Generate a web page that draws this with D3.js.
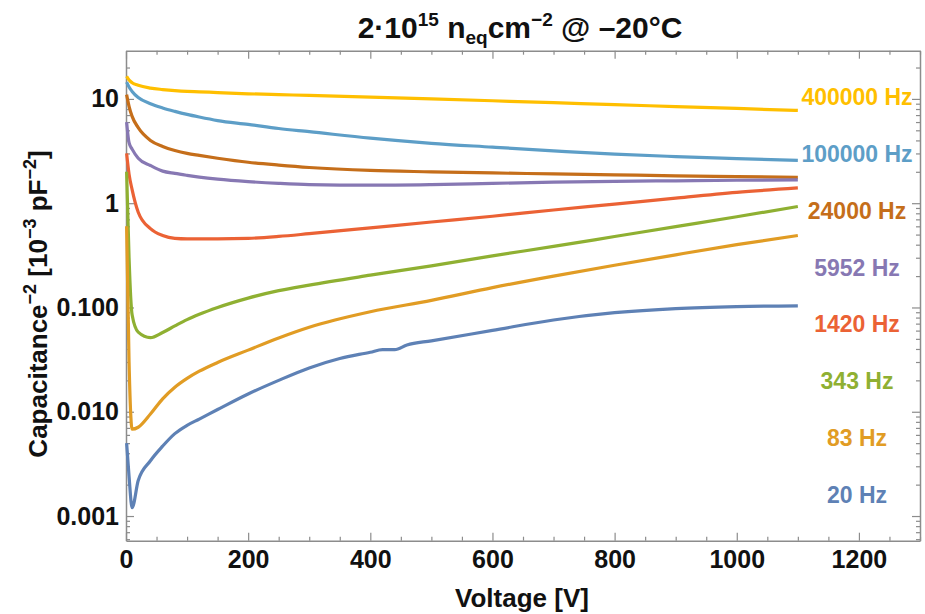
<!DOCTYPE html>
<meta charset="utf-8">
<style>
body {
  margin: 0;
  background: #fff;
  font-family: "Liberation Sans", Arial, sans-serif;
  font-weight: bold;
}
.frame .domain { stroke: #8c8c8c; stroke-width: 1.5; }
.frame .tick line { stroke: #8c8c8c; stroke-width: 1.2; }
.frame .tick text { fill: #111; font-size: 25px; font-weight: bold; }
.curve { fill: none; stroke-width: 3.2; stroke-linejoin: round; }
</style>
<body>
<script src="https://cdnjs.cloudflare.com/ajax/libs/d3/7.8.5/d3.min.js"></script>
<script>

var width = 925,
    height = 614;

// frequencies, top to bottom in the label column
var freqs = ["400000 Hz", "100000 Hz", "24000 Hz", "5952 Hz", "1420 Hz", "343 Hz", "83 Hz", "20 Hz"];
var colors = ["#ffbf00", "#5d9ec7", "#c56e1a", "#8778b3", "#eb6235", "#8fb032", "#e19c24", "#5e81b5"];

// bias voltage [V]
var voltage = [1, 5, 10, 20, 40, 60, 80, 100, 120, 150, 200, 250, 300, 400, 500, 600, 700, 800, 900, 1000, 1100];
// the 20 Hz curve was read on a slightly finer grid
var voltage20 = [1, 5, 10, 20, 40, 60, 80, 100, 120, 150, 200, 250, 300, 350, 400, 420, 440, 460, 500, 600, 700, 800, 900, 1000, 1100];

// 1/C^2 [1e-3 pF^-2]
var c400000 = [16.5, 15.2, 14.3, 13.5, 12.7, 12.3, 12.0, 11.8, 11.7, 11.5, 11.2, 11.0, 10.8, 10.4, 10.0, 9.6, 9.2, 8.8, 8.45, 8.1, 7.75];
var c100000 = [14.5, 13.0, 11.8, 10.3, 9.0, 8.2, 7.6, 7.1, 6.7, 6.2, 5.7, 5.2, 4.85, 4.2, 3.75, 3.45, 3.18, 2.95, 2.8, 2.68, 2.57];
var c24000 = [11.0, 8.5, 6.8, 5.3, 4.0, 3.5, 3.2, 3.0, 2.87, 2.7, 2.47, 2.32, 2.2, 2.06, 2.0, 1.95, 1.91, 1.87, 1.83, 1.8, 1.77];
var c5952 = [6.0, 3.8, 3.3, 2.7, 2.3, 2.03, 1.93, 1.85, 1.78, 1.7, 1.61, 1.55, 1.51, 1.49, 1.51, 1.55, 1.59, 1.62, 1.64, 1.66, 1.67];
var c1420 = [3.0, 1.9, 1.35, 0.82, 0.57, 0.49, 0.46, 0.455, 0.455, 0.455, 0.46, 0.48, 0.51, 0.58, 0.66, 0.75, 0.86, 0.98, 1.12, 1.27, 1.4];
var c343 = [2.0, 0.3, 0.085, 0.058, 0.0513, 0.0575, 0.0665, 0.0765, 0.086, 0.1, 0.123, 0.145, 0.164, 0.204, 0.251, 0.313, 0.385, 0.479, 0.596, 0.741, 0.93];
var c83 = [0.6, 0.03, 0.0068, 0.0071, 0.0095, 0.0133, 0.0172, 0.0209, 0.0245, 0.0297, 0.039, 0.051, 0.0646, 0.091, 0.117, 0.155, 0.2, 0.254, 0.32, 0.4, 0.49];
var c20 = [0.005, 0.0024, 0.0012, 0.00219, 0.00339, 0.00468, 0.00617, 0.00741, 0.00851, 0.0105, 0.0148, 0.02, 0.0263, 0.0324, 0.0372, 0.0394, 0.0394, 0.0437, 0.0479, 0.0603, 0.0759, 0.0891, 0.0977, 0.102, 0.1035];

var xTicks = [0, 200, 400, 600, 800, 1000, 1200];
var yTicks = [0.001, 0.01, 0.1, 1, 10];
var yTickLabels = ["0.001", "0.010", "0.100", "1", "10"];

var series = [
  { v: voltage, c: c400000 },
  { v: voltage, c: c100000 },
  { v: voltage, c: c24000 },
  { v: voltage, c: c5952 },
  { v: voltage, c: c1420 },
  { v: voltage, c: c343 },
  { v: voltage, c: c83 },
  { v: voltage20, c: c20 }
];

var x = d3.scaleLinear().domain([0, 1300]).range([126, 920]);
var y = d3.scaleLog().domain([0.00058, 29]).range([540.7, 50.7]);

var xMinor = d3.range(0, 1301, 50).filter(function(d) { return d % 200 !== 0; });
var yMinor = [];
[-4, -3, -2, -1, 0, 1].forEach(function(e) {
  for (var k = 2; k <= 9; k++) {
    var val = k * Math.pow(10, e);
    if (val >= 0.00058 && val <= 29) yMinor.push(val);
  }
});

var svg = d3.select("body").append("svg")
    .attr("width", width)
    .attr("height", height);

var frame = svg.append("g").attr("class", "frame");

// bottom / top
frame.append("g")
    .attr("transform", "translate(0," + y.range()[0] + ")")
    .call(d3.axisBottom(x).tickValues(xTicks).tickFormat(d3.format("d"))
      .tickSizeInner(-8).tickSizeOuter(0).tickPadding(10));
frame.append("g")
    .attr("transform", "translate(0," + y.range()[0] + ")")
    .call(d3.axisBottom(x).tickValues(xMinor).tickFormat("").tickSizeInner(-4).tickSizeOuter(0))
    .select(".domain").remove();
frame.append("g")
    .attr("transform", "translate(0," + y.range()[1] + ")")
    .call(d3.axisTop(x).tickValues(xTicks).tickFormat("").tickSizeInner(-8).tickSizeOuter(0));
frame.append("g")
    .attr("transform", "translate(0," + y.range()[1] + ")")
    .call(d3.axisTop(x).tickValues(xMinor).tickFormat("").tickSizeInner(-4).tickSizeOuter(0))
    .select(".domain").remove();

// left / right
frame.append("g")
    .attr("transform", "translate(" + x.range()[0] + ",0)")
    .call(d3.axisLeft(y).tickValues(yTicks)
      .tickFormat(function(d, i) { return yTickLabels[i]; })
      .tickSizeInner(-8).tickSizeOuter(0).tickPadding(7));
frame.append("g")
    .attr("transform", "translate(" + x.range()[0] + ",0)")
    .call(d3.axisLeft(y).tickValues(yMinor).tickFormat("").tickSizeInner(-4).tickSizeOuter(0))
    .select(".domain").remove();
frame.append("g")
    .attr("transform", "translate(" + x.range()[1] + ",0)")
    .call(d3.axisRight(y).tickValues(yTicks).tickFormat("").tickSizeInner(-8).tickSizeOuter(0));
frame.append("g")
    .attr("transform", "translate(" + x.range()[1] + ",0)")
    .call(d3.axisRight(y).tickValues(yMinor).tickFormat("").tickSizeInner(-4).tickSizeOuter(0))
    .select(".domain").remove();

frame.selectAll(".tick text").attr("font-family", null).attr("font-size", null);

// curves
var line = d3.line()
    .curve(d3.curveMonotoneX)
    .x(function(d) { return x(d[0]); })
    .y(function(d) { return y(d[1]); });

svg.append("g").selectAll(".curve")
    .data(series)
  .enter().append("path")
    .attr("class", "curve")
    .attr("stroke", function(d, i) { return colors[i]; })
    .attr("d", function(s) { return line(d3.zip(s.v, s.c)); });

// frequency labels on the right
var labelY = d3.scalePoint().domain(freqs).range([97, 495]);

svg.append("g").selectAll(".flabel")
    .data(freqs)
  .enter().append("text")
    .attr("class", "flabel")
    .attr("x", 857)
    .attr("y", function(d) { return labelY(d); })
    .attr("text-anchor", "middle")
    .attr("dominant-baseline", "central")
    .style("font-size", "23px")
    .style("fill", function(d, i) { return colors[i]; })
    .text(function(d) { return d; });

// title
var title = svg.append("text")
    .attr("x", 520)
    .attr("y", 38)
    .attr("text-anchor", "middle")
    .style("font-size", "30px")
    .style("fill", "#111");
title.append("tspan").text("2·10");
title.append("tspan").attr("dy", -12).style("font-size", "19px").text("15");
title.append("tspan").attr("dy", 12).text(" n");
title.append("tspan").attr("dy", 6).style("font-size", "19px").text("eq");
title.append("tspan").attr("dy", -6).text("cm");
title.append("tspan").attr("dy", -12).style("font-size", "19px").text("\u22122");
title.append("tspan").attr("dy", 12).text(" @ \u201320°C");

// axis titles
svg.append("text")
    .attr("x", 522)
    .attr("y", 607)
    .attr("text-anchor", "middle")
    .style("font-size", "26px")
    .style("fill", "#111")
    .text("Voltage [V]");

var ytitle = svg.append("text")
    .attr("transform", "translate(47,304) rotate(-90)")
    .attr("text-anchor", "middle")
    .style("font-size", "26px")
    .style("fill", "#111");
ytitle.append("tspan").text("Capacitance");
ytitle.append("tspan").attr("dy", -11).style("font-size", "18px").text("\u22122");
ytitle.append("tspan").attr("dy", 11).text(" [10");
ytitle.append("tspan").attr("dy", -11).style("font-size", "18px").text("\u22123");
ytitle.append("tspan").attr("dy", 11).text("  pF");
ytitle.append("tspan").attr("dy", -11).style("font-size", "18px").text("\u22122");
ytitle.append("tspan").attr("dy", 11).text("]");

</script>
